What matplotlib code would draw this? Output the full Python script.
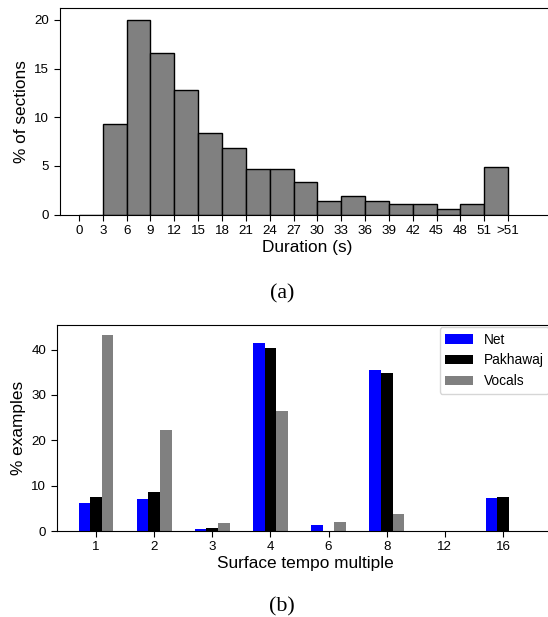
import numpy as np
import matplotlib
matplotlib.use("Agg")
import matplotlib.pyplot as plt

plt.rcParams["font.family"] = ["Liberation Sans", "DejaVu Sans"]

# (a) section duration histogram, 3 s bins, last bin is ">51"
binEdges = [0, 3, 6, 9, 12, 15, 18, 21, 24, 27, 30, 33, 36, 39, 42, 45, 48, 51]
binLabels = ["0", "3", "6", "9", "12", "15", "18", "21", "24", "27", "30", "33",
             "36", "39", "42", "45", "48", "51", ">51"]
sectionPct = [0.0, 9.3, 20.0, 16.6, 12.8, 8.4, 6.8, 4.7, 4.7, 3.3, 1.4, 1.9,
              1.4, 1.1, 1.1, 0.6, 1.1, 4.9]

# (b) surface tempo multiples
multiples = ["1", "2", "3", "4", "6", "8", "12", "16"]
netPct = [6.2, 7.1, 0.4, 41.5, 1.3, 35.5, 0.0, 7.3]
pakhawajPct = [7.5, 8.6, 0.7, 40.4, 0.0, 34.9, 0.0, 7.5]
vocalsPct = [43.2, 22.3, 1.8, 26.5, 2.0, 3.8, 0.0, 0.0]

W, H = 548, 617
fig = plt.figure(figsize=(W / 100, H / 100), dpi=100)

def box(left, top, right, bottom):
    return [left / W, 1 - bottom / H, (right - left) / W, (bottom - top) / H]

# ---- (a)
ax1 = fig.add_axes(box(59.5, 8.3, 555, 214.5))
ax1.bar(binEdges, sectionPct, width=3, align="edge", color="#808080",
        edgecolor="black", linewidth=1.0)
ax1.set_xticks(binEdges + [54])
ax1.set_xticklabels(binLabels)
ax1.set_xlim(-2.45, 59.9)
ax1.set_ylim(0, 21.2)
ax1.set_yticks([0, 5, 10, 15, 20])
ax1.tick_params(labelsize=9.6, length=4)
ax1.set_xlabel("Duration (s)", fontsize=12.4, labelpad=2)
ax1.set_ylabel("% of sections", fontsize=12.4)

# ---- (b)
ax2 = fig.add_axes(box(56.7, 325, 555, 531))
x = np.arange(len(multiples))
w = 0.2
ax2.bar(x - w, netPct, width=w, color="blue", label="Net")
ax2.bar(x, pakhawajPct, width=w, color="black", label="Pakhawaj")
ax2.bar(x + w, vocalsPct, width=w, color="gray", label="Vocals")
ax2.set_xticks(x)
ax2.set_xticklabels(multiples)
ax2.set_xlim(-0.676, 7.895)
ax2.set_ylim(0, 45.4)
ax2.set_yticks([0, 10, 20, 30, 40])
ax2.tick_params(labelsize=9.6, length=4)
ax2.set_xlabel("Surface tempo multiple", fontsize=12.4, labelpad=2)
ax2.set_ylabel("% examples", fontsize=12.4)
ax2.legend(loc="upper right", fontsize=9.9, borderaxespad=0,
           bbox_to_anchor=(549 / W, 1 - 327 / H), bbox_transform=fig.transFigure)

# captions
fig.text(282 / W, 1 - 294 / H, "(a)", ha="center", va="center",
         fontsize=15.8, family=["Liberation Serif", "DejaVu Serif"])
fig.text(282 / W, 1 - 607 / H, "(b)", ha="center", va="center",
         fontsize=15.8, family=["Liberation Serif", "DejaVu Serif"])

plt.savefig("out.png", dpi=100)
